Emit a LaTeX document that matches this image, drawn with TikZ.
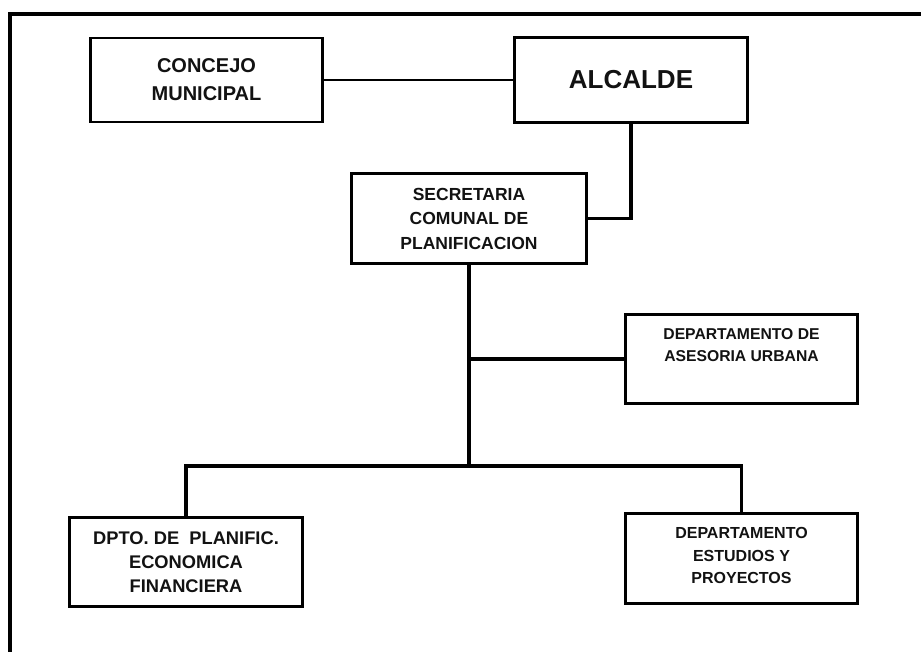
\documentclass[tikz,border=0pt]{standalone}
\usepackage{fontspec}
\setmainfont{Liberation Sans}
\begin{document}
\begin{tikzpicture}[x=1pt,y=1pt,
  box/.style={draw=black, line width=2.8pt, rectangle, inner sep=0pt, align=center, font=\bfseries, text=black!93},
  conn/.style={draw=black, line width=3.6pt, line join=miter},
  thinconn/.style={draw=black, line width=2.6pt},
  frame/.style={draw=black, line width=4.5pt, line join=miter}]
\useasboundingbox (0,0) rectangle (921,652);
\fill[white] (0,0) rectangle (921,652);
% outer frame (cut off at right and bottom)
\draw[frame] (10,-5) -- (10,638) -- (930,638);
% nodes
\node[box, minimum width=232pt, minimum height=84pt, font=\bfseries\fontsize{20}{28}\selectfont] (concejo) at (206.5,572) {CONCEJO\\MUNICIPAL};
\node[box, minimum width=233pt, minimum height=85pt, font=\bfseries\fontsize{26}{30}\selectfont] (alcalde) at (631,572) {\raisebox{2pt}{ALCALDE}};
\node[box, minimum width=235pt, minimum height=90pt, font=\bfseries\fontsize{17.5}{24.5}\selectfont] (secretaria) at (469,433.5) {SECRETARIA\\COMUNAL DE\\PLANIFICACION};
\node[box, minimum width=232pt, minimum height=89pt, font=\bfseries\fontsize{15.7}{22}\selectfont] (asesoria) at (741.5,293) {DEPARTAMENTO DE\\ASESORIA URBANA\\\strut};
\node[box, minimum width=233pt, minimum height=89pt, font=\bfseries\fontsize{18.3}{24}\selectfont] (dpto) at (186,90) {DPTO. DE\ \ PLANIFIC.\\ECONOMICA\\FINANCIERA};
\node[box, minimum width=232pt, minimum height=90pt, font=\bfseries\fontsize{16}{22.5}\selectfont] (estudios) at (741.5,93.5) {DEPARTAMENTO\\ESTUDIOS Y\\PROYECTOS\\[-17pt]\mbox{}};
\coordinate (bus) at (469,186);
% connectors
\draw[thinconn] (concejo.east) -- (alcalde.west);
\draw[conn] (alcalde.south) |- (secretaria.east);
\draw[conn] (secretaria.south) -- (bus);
\draw[conn] (asesoria.west) -- (secretaria.south |- asesoria.west);
\draw[conn] (dpto.north) |- (bus) -| (estudios.north);
\end{tikzpicture}
\end{document}
